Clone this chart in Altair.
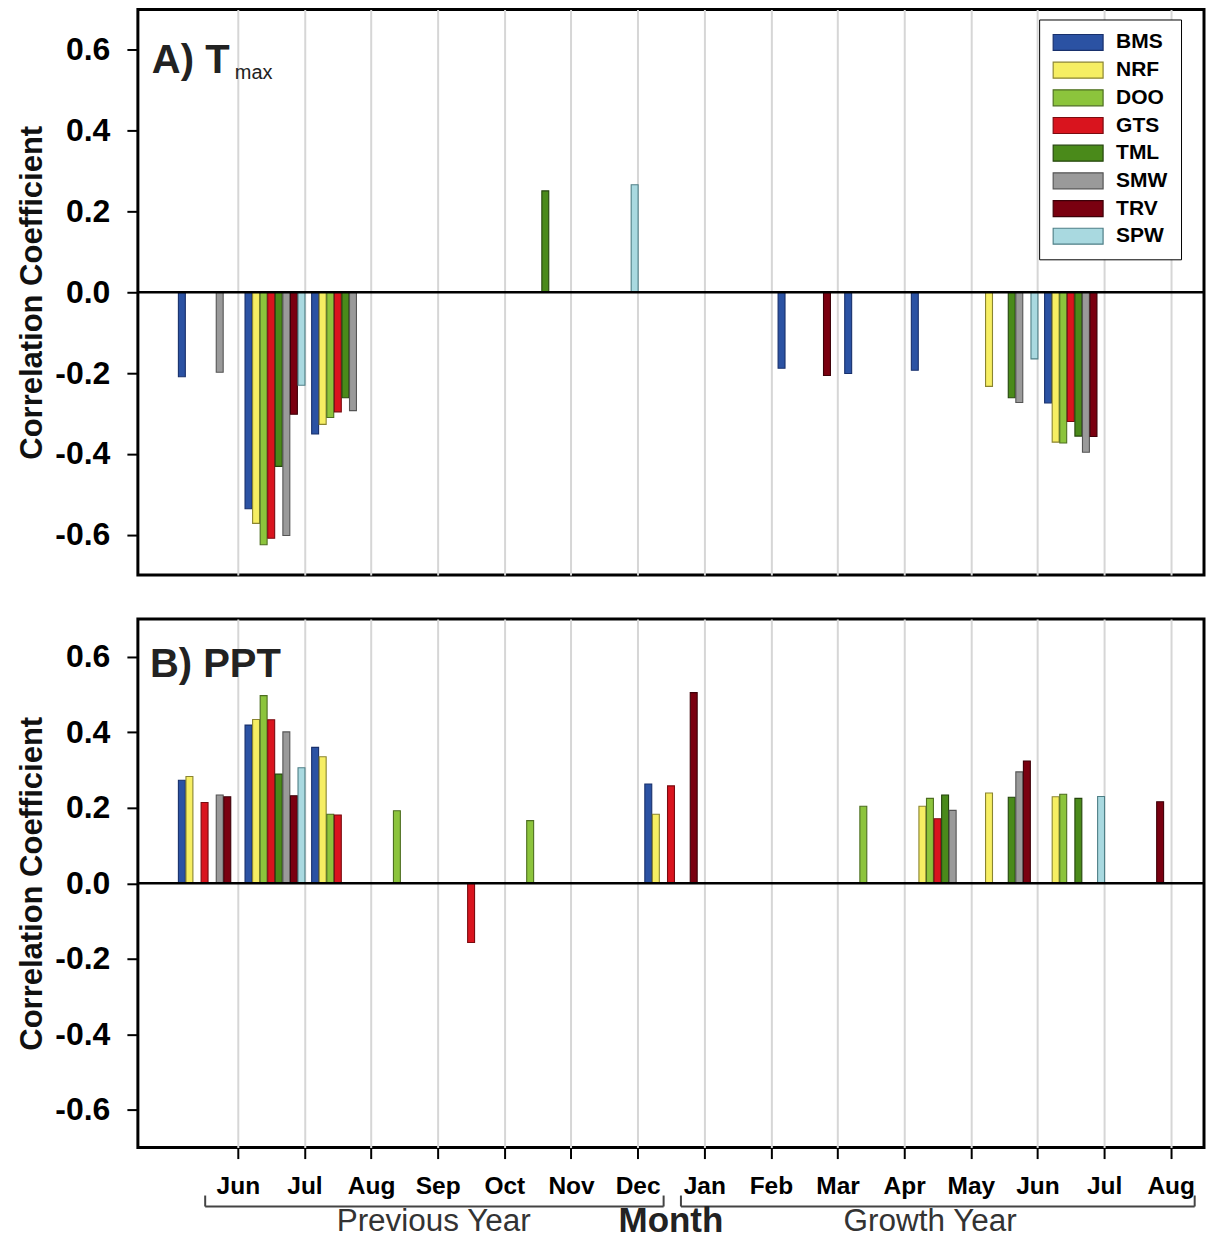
import altair as alt
import pandas as pd

# ---------------- data ----------------
months = ["Jun", "Jul", "Aug", "Sep", "Oct", "Nov", "Dec",
          "Jan", "Feb", "Mar", "Apr", "May", "Jun", "Jul", "Aug"]
sites = ["BMS", "NRF", "DOO", "GTS", "TML", "SMW", "TRV", "SPW"]
fills = ["#2b52a3", "#f6ee63", "#8cc43c", "#d9141e", "#4a8a1a", "#9a9a9a", "#7a0010", "#a9d9e0"]
strokes = ["#18306c", "#8a8430", "#4d6e20", "#7a0b10", "#24450c", "#555555", "#3d0008", "#4f7f86"]

N = None
# Tmax correlations, one list per site over the 15 month slots
tmax = {
    "BMS": [-0.209, -0.536, -0.351, N, N, N, N, N, N, -0.188, -0.201, -0.193, N, -0.274, N],
    "NRF": [N, -0.572, -0.327, N, N, N, N, N, N, N, N, N, -0.233, -0.371, N],
    "DOO": [N, -0.625, -0.310, N, N, N, N, N, N, N, N, N, N, -0.373, N],
    "GTS": [N, -0.609, -0.296, N, N, N, N, N, N, N, N, N, N, -0.320, N],
    "TML": [N, -0.431, -0.261, N, N, 0.251, N, N, N, N, N, N, -0.261, -0.356, N],
    "SMW": [-0.198, -0.602, -0.293, N, N, N, N, N, N, N, N, N, -0.273, -0.396, N],
    "TRV": [N, -0.302, N, N, N, N, N, N, N, -0.206, N, N, N, -0.357, N],
    "SPW": [N, -0.230, N, N, N, N, 0.266, N, N, N, N, N, -0.165, N, N],
}
# PPT correlations
ppt = {
    "BMS": [0.273, 0.419, 0.360, N, N, N, N, 0.263, N, N, N, N, N, N, N],
    "NRF": [0.283, 0.434, 0.335, N, N, N, N, 0.183, N, N, N, 0.204, 0.239, 0.229, N],
    "DOO": [N, 0.497, 0.183, 0.192, N, 0.166, N, N, N, N, 0.204, 0.225, N, 0.236, N],
    "GTS": [0.214, 0.433, 0.181, N, -0.157, N, N, 0.258, N, N, N, 0.171, N, N, N],
    "TML": [N, 0.289, N, N, N, N, N, N, N, N, N, 0.234, 0.228, 0.225, N],
    "SMW": [0.234, 0.401, N, N, N, N, N, N, N, N, N, 0.193, 0.295, N, N],
    "TRV": [0.229, 0.232, N, N, N, N, N, 0.505, N, N, N, N, 0.324, N, 0.216],
    "SPW": [N, 0.306, N, N, N, N, N, N, N, N, N, N, N, 0.230, N],
}
y_ticks = [-0.6, -0.4, -0.2, 0.0, 0.2, 0.4, 0.6]
panel_titles = ["A) T", "B) PPT"]
subscript = ["max"]
brackets = [("Previous Year", -0.49, 6.39, 2.94), ("Growth Year", 6.65, 14.36, 10.39)]
x_title = "Month"
x_title_pos = 6.5

# ---------------- layout constants ----------------
GROUP_START = -0.84   # first bar centre relative to the month tick
SITE_PITCH = 0.1136
HALF_W = 0.052
W = 1067
H_TOP = 566
H_BOT = 529
FONT = "Liberation Sans"


def long_df(d):
    rows = []
    for si, s in enumerate(sites):
        for mi, v in enumerate(d[s]):
            if v is None:
                continue
            c = mi + GROUP_START + si * SITE_PITCH
            rows.append(dict(site=s, month=months[mi], value=v, zero=0.0,
                             x0=c - HALF_W, x1=c + HALF_W))
    return pd.DataFrame(rows)


xscale = alt.Scale(domain=[-1.5, 14.5], nice=False, zero=False)
yscale = alt.Scale(domain=[-0.7, 0.7], nice=False)

label_expr_x = "[" + ",".join("'%s'" % m for m in months) + "][datum.value]"
label_expr_y = "(datum.value < -0.001 ? '-' : '') + format(abs(datum.value), '.1f')"

yaxis = alt.Axis(values=y_ticks, labelExpr=label_expr_y, labelFontSize=32,
                 labelFontWeight="bold", labelColor="black", tickSize=11, tickWidth=2,
                 tickColor="black", labelPadding=17, domain=False, grid=False,
                 title="Correlation Coefficient", titleFontSize=31, titleFontWeight="bold",
                 titleColor="#111111", titlePadding=6)

xaxis_top = alt.Axis(values=list(range(15)), grid=True, labels=False, ticks=False,
                     domain=False, title=None, gridColor="#d6d6d6", gridWidth=2)
xaxis_bot = alt.Axis(values=list(range(15)), grid=True, labelExpr=label_expr_x,
                     labelFontSize=24.5, labelFontWeight="bold", labelColor="black",
                     tickSize=11, tickWidth=2, tickColor="black", labelPadding=16,
                     domain=False, title=None, gridColor="#d6d6d6", gridWidth=2)

legend = alt.Legend(title=None, orient="none", legendX=902, legendY=10,
                    symbolType="M-1,-0.32L1,-0.32L1,0.32L-1,0.32Z", symbolSize=2500,
                    symbolStrokeWidth=1.2, symbolOpacity=1, labelFontSize=21,
                    labelFontWeight="bold", labelColor="black", labelOffset=12,
                    rowPadding=6.7, padding=13, strokeColor="black", fillColor="white",
                    clipHeight=20)


def panel(d, xaxis, height, title, with_legend):
    df = long_df(d)
    leg = legend if with_legend else None
    bars = alt.Chart(df).mark_bar(strokeWidth=1.1, opacity=1).encode(
        x=alt.X("x0:Q", scale=xscale, axis=xaxis),
        x2="x1:Q",
        y=alt.Y("value:Q", scale=yscale, axis=yaxis),
        y2="zero:Q",
        fill=alt.Fill("site:N", scale=alt.Scale(domain=sites, range=fills), legend=leg),
        stroke=alt.Stroke("site:N", scale=alt.Scale(domain=sites, range=strokes), legend=leg),
    )
    zero = alt.Chart(pd.DataFrame({"y": [0.0]})).mark_rule(color="black", strokeWidth=2.5).encode(
        y=alt.Y("y:Q", scale=yscale, axis=yaxis))
    ttl = alt.Chart(pd.DataFrame({"t": [title]})).mark_text(
        align="left", baseline="alphabetic", fontSize=40, fontWeight="bold",
        color="#222222").encode(text="t:N", x=alt.value(14 if with_legend else 12),
                                y=alt.value(64 if with_legend else 58))
    layers = [bars, zero, ttl]
    if with_legend:
        sub = alt.Chart(pd.DataFrame({"t": subscript})).mark_text(
            align="left", baseline="alphabetic", fontSize=20, color="#222222").encode(
            text="t:N", x=alt.value(97), y=alt.value(70))
        layers.append(sub)
    else:
        # bracket annotations under the bottom axis
        bdf = pd.DataFrame([dict(label=b[0], start=b[1], end=b[2], mid=b[3]) for b in brackets])
        edge_df = pd.DataFrame({"e": [b[1] for b in brackets] + [b[2] for b in brackets]})
        hline = alt.Chart(bdf).mark_rule(color="#444444", strokeWidth=2).encode(
            x=alt.X("start:Q", scale=xscale, axis=xaxis), x2="end:Q", y=alt.value(588))
        vlines = alt.Chart(edge_df).mark_rule(color="#444444", strokeWidth=2).encode(
            x=alt.X("e:Q", scale=xscale, axis=xaxis), y=alt.value(577), y2=alt.value(588))
        btext = alt.Chart(bdf).mark_text(fontSize=31.5, color="#333333",
                                         baseline="alphabetic").encode(
            x=alt.X("mid:Q", scale=xscale, axis=xaxis), y=alt.value(613), text="label:N")
        mtext = alt.Chart(pd.DataFrame({"t": [x_title], "x": [x_title_pos]})).mark_text(
            fontSize=35, fontWeight="bold", color="#222222", baseline="alphabetic").encode(
            x=alt.X("x:Q", scale=xscale, axis=xaxis), y=alt.value(614), text="t:N")
        layers += [hline, vlines, btext, mtext]
    return alt.layer(*layers).properties(width=W, height=height)


top = panel(tmax, xaxis_top, H_TOP, panel_titles[0], True)
bot = panel(ppt, xaxis_bot, H_BOT, panel_titles[1], False)

chart = alt.vconcat(top, bot, spacing=40).resolve_scale(
    fill="independent", stroke="independent"
).properties(
    padding={"left": 15, "top": 7, "right": 2, "bottom": 0}
).configure(font=FONT).configure_view(stroke="black", strokeWidth=3)

chart.save("out.html", embed_options={"renderer": "svg", "actions": False})
